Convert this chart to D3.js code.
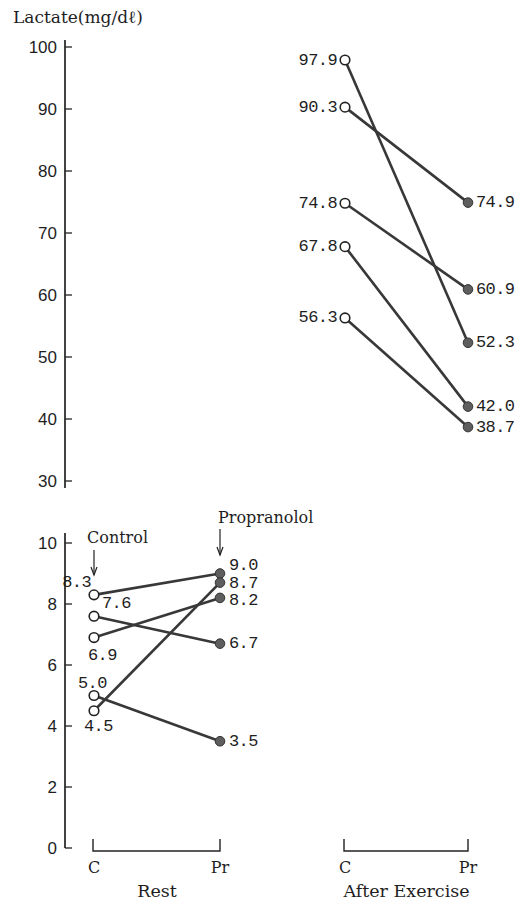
<!DOCTYPE html>
<html>
<head>
<meta charset="utf-8">
<script src="https://cdn.jsdelivr.net/npm/d3@7"></script>
<style>
  body { margin: 0; background: #fff; }
  svg text { fill: #1e1e1e; }
</style>
</head>
<body>
<div id="chart"></div>
<script>
// data
const restControl = [8.3, 7.6, 6.9, 4.5, 5.0];
const restPropranolol = [9.0, 6.7, 8.2, 8.7, 3.5];
const exControl = [97.9, 90.3, 74.8, 67.8, 56.3];
const exPropranolol = [52.3, 74.9, 60.9, 42.0, 38.7];
const topTicks = [30, 40, 50, 60, 70, 80, 90, 100];
const bottomTicks = [0, 2, 4, 6, 8, 10];
const conditions = ["C", "Pr"];
const groups = ["Rest", "After Exercise"];

// label offsets for the rest panel (crowded)
const restCtrlLabelPos = [[-3, -12], [8, -13], [-6, 18], [-10, 16], [-16, -12]];
const restPropLabelDy = [-8, 0, 2.5, 0.5, 0];

const svgObj = { width: 526, height: 902 };
const axisX = 65;
const numFont = "'Liberation Mono', monospace";
const tickFont = "'Liberation Sans', sans-serif";
const textFont = "'DejaVu Serif', serif";
const lineColor = "#383838";

const svg = d3
  .select("#chart")
  .append("svg")
  .attr("width", svgObj.width)
  .attr("height", svgObj.height);

const yTop = d3.scaleLinear().domain([30, 100]).range([481, 47]);
const yBot = d3.scaleLinear().domain([0, 10]).range([848, 543]);
const xRest = d3.scalePoint().domain(conditions).range([94, 220]);
const xEx = d3.scalePoint().domain(conditions).range([345, 468]);

// y axes
const drawAxis = (scale, ticks, y0, y1) => {
  const g = svg.append("g").attr("transform", `translate(${axisX},0)`);
  g.append("line")
    .attr("x1", 0).attr("x2", 0)
    .attr("y1", y0).attr("y2", y1)
    .attr("stroke", "#222").attr("stroke-width", 1.7);
  ticks.forEach((t) => {
    g.append("line")
      .attr("x1", 0).attr("x2", 7)
      .attr("y1", scale(t)).attr("y2", scale(t))
      .attr("stroke", "#222").attr("stroke-width", 1.3);
    g.append("text")
      .attr("x", -8).attr("y", scale(t))
      .attr("text-anchor", "end")
      .attr("dominant-baseline", "central")
      .style("font-family", tickFont)
      .style("font-size", "17px")
      .text(t);
  });
};
drawAxis(yTop, topTicks, 40, 488);
drawAxis(yBot, bottomTicks, 533, yBot(0));

svg.append("text")
  .attr("x", 13).attr("y", 23)
  .style("font-family", textFont)
  .style("font-size", "17px")
  .text("Lactate(mg/dℓ)");

// paired lines + circles
const drawPairs = (xs, ys, ctrl, prop) => {
  ctrl.forEach((v, i) => {
    svg.append("line")
      .attr("x1", xs("C")).attr("y1", ys(v))
      .attr("x2", xs("Pr")).attr("y2", ys(prop[i]))
      .attr("stroke", lineColor).attr("stroke-width", 2.6);
  });
  ctrl.forEach((v) => {
    svg.append("circle")
      .attr("cx", xs("C")).attr("cy", ys(v)).attr("r", 4.8)
      .attr("fill", "#fff").attr("stroke", "#222").attr("stroke-width", 1.6);
  });
  prop.forEach((v) => {
    svg.append("circle")
      .attr("cx", xs("Pr")).attr("cy", ys(v)).attr("r", 4.8)
      .attr("fill", "#5e5e5e").attr("stroke", "#333").attr("stroke-width", 1);
  });
};
drawPairs(xEx, yTop, exControl, exPropranolol);
drawPairs(xRest, yBot, restControl, restPropranolol);

const numLabel = (x, y, txt, anchor) =>
  svg.append("text")
    .attr("x", x).attr("y", y)
    .attr("text-anchor", anchor)
    .attr("dominant-baseline", "central")
    .style("font-family", numFont)
    .style("font-size", "17px")
    .style("letter-spacing", "-0.6px")
    .text(txt);

exControl.forEach((v) => numLabel(xEx("C") - 8, yTop(v), v.toFixed(1), "end"));
exPropranolol.forEach((v) => numLabel(xEx("Pr") + 8, yTop(v), v.toFixed(1), "start"));

restControl.forEach((v, i) =>
  numLabel(xRest("C") + restCtrlLabelPos[i][0], yBot(v) + restCtrlLabelPos[i][1], v.toFixed(1),
    i === 0 ? "end" : "start")
);
restPropranolol.forEach((v, i) =>
  numLabel(xRest("Pr") + 9, yBot(v) + restPropLabelDy[i], v.toFixed(1), "start")
);

// annotations with arrows
const arrow = (x, y0, y1) => {
  svg.append("line")
    .attr("x1", x).attr("x2", x).attr("y1", y0).attr("y2", y1)
    .attr("stroke", "#222").attr("stroke-width", 1.2);
  svg.append("path")
    .attr("d", `M${x - 3},${y1 - 8}L${x},${y1}L${x + 3},${y1 - 8}`)
    .attr("fill", "none").attr("stroke", "#222").attr("stroke-width", 1.2);
};
svg.append("text")
  .attr("x", 87).attr("y", 543)
  .style("font-family", textFont).style("font-size", "16px")
  .text("Control");
arrow(xRest("C"), 550, 575);
svg.append("text")
  .attr("x", 218).attr("y", 523)
  .style("font-family", textFont).style("font-size", "16px")
  .text("Propranolol");
arrow(xRest("Pr"), 529, 555);

// group brackets and labels
const bracketY = 851;
[[xRest, groups[0]], [xEx, groups[1]]].forEach(([xs, name]) => {
  svg.append("path")
    .attr("d", `M${xs("C") - 1},${bracketY - 12}V${bracketY}H${xs("Pr")}V${bracketY - 12}`)
    .attr("fill", "none").attr("stroke", "#222").attr("stroke-width", 1.4);
  conditions.forEach((c) => {
    svg.append("text")
      .attr("x", xs(c)).attr("y", 873)
      .attr("text-anchor", "middle")
      .style("font-family", textFont).style("font-size", "16px")
      .text(c);
  });
  svg.append("text")
    .attr("x", (xs("C") + xs("Pr")) / 2).attr("y", 897)
    .attr("text-anchor", "middle")
    .style("font-family", textFont).style("font-size", "17.5px")
    .text(name);
});
</script>
</body>
</html>
